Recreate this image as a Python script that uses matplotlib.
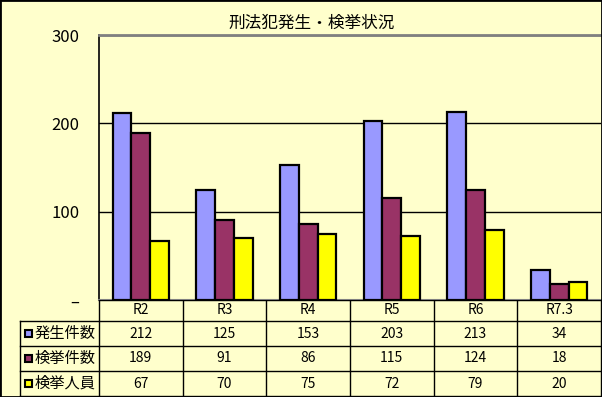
import numpy as np
import matplotlib
matplotlib.use("Agg")
import matplotlib.pyplot as plt
from matplotlib.patches import Rectangle

plt.rcParams['font.family'] = ['Noto Sans CJK JP', 'DejaVu Sans']

# data
years = ['R2', 'R3', 'R4', 'R5', 'R6', 'R7.3']
series = ['発生件数', '検挙件数', '検挙人員']
hassei = [212, 125, 153, 203, 213, 34]
kenkyo = [189, 91, 86, 115, 124, 18]
jinin = [67, 70, 75, 72, 79, 20]
colors = ['#9999FF', '#993366', '#FFFF00']
values = [hassei, kenkyo, jinin]

bg = '#FFFFCC'
W, H = 602, 397
fig = plt.figure(figsize=(W / 100, H / 100), dpi=100, facecolor=bg)

# plot area (pixel box)
left, right, top, bottom = 99, 601, 35, 300
ax = fig.add_axes([left / W, (H - bottom) / H, (right - left) / W, (bottom - top) / H])
ax.set_facecolor(bg)
x = np.arange(len(years))
bw = 0.225
for i, (vals, c) in enumerate(zip(values, colors)):
    ax.bar(x + (i - 1) * bw, vals, bw, color=c, edgecolor='black', linewidth=1.6, zorder=3)
ax.set_xlim(-0.5, len(years) - 0.5)
ax.set_ylim(0, 300)
ax.set_yticks([0, 100, 200, 300])
ax.set_yticklabels(['–', '100', '200', '300'], fontsize=12)
ax.yaxis.grid(True, color='black', linewidth=1)
ax.tick_params(axis='y', length=0, pad=14)
ax.tick_params(axis='x', length=0, labelbottom=False)
ax.spines['top'].set_color('#808080')
ax.spines['top'].set_linewidth(2)
ax.spines['right'].set_visible(False)
ax.spines['left'].set_linewidth(1.2)
ax.spines['bottom'].set_color('#808080')
ax.spines['bottom'].set_linewidth(1.5)

fig.text(312 / W, 1 - 23 / H, '刑法犯発生・検挙状況', ha='center', va='center', fontsize=12)

# data table under the plot
tab = fig.add_axes([0, 0, 1, (H - bottom) / H])
tab.set_xlim(0, W)
tab.set_ylim(H - bottom, 0)
tab.axis('off')
cw = (right - left) / len(years)
rows = [bottom, 321, 346, 371, 396]
rows = [r - bottom for r in rows]
lab_x = 20
tab.plot([left, right], [rows[0], rows[0]], color='black', lw=1)
for r in rows[1:]:
    tab.plot([lab_x, right], [r, r], color='black', lw=1)
for j in range(len(years) + 1):
    xx = left + j * cw
    tab.plot([xx, xx], [rows[0], rows[-1]], color='black', lw=1)
tab.plot([lab_x, lab_x], [rows[1], rows[-1]], color='black', lw=1)

for j, yname in enumerate(years):
    tab.text(left + (j + 0.5) * cw, (rows[0] + rows[1]) / 2, yname,
             ha='center', va='center', fontsize=10)
for i, (name, vals, c) in enumerate(zip(series, values, colors)):
    ymid = (rows[i + 1] + rows[i + 2]) / 2
    tab.add_patch(Rectangle((25, ymid - 4), 7, 7, facecolor=c, edgecolor='black', lw=1.5))
    tab.text(35, ymid, name, ha='left', va='center', fontsize=11)
    for j, v in enumerate(vals):
        tab.text(left + (j + 0.5) * cw, ymid, str(v), ha='center', va='center', fontsize=10)

# outer border
fig.patches.append(Rectangle((0, 0), 1, 1, transform=fig.transFigure, fill=False,
                             edgecolor='black', lw=2))

fig.savefig('out.png', dpi=100, facecolor=bg)
